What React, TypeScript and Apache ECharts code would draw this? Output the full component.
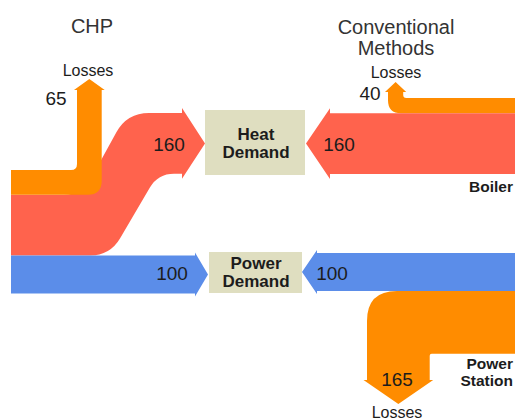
import React, { useEffect, useRef } from 'react';
import * as echarts from 'echarts';

// ---- data ----
const titles = ['CHP', 'Conventional\nMethods'];
const chpNames = ['Losses', 'Heat', 'Power'];
const chpValues = [65, 160, 100];
const convNames = ['Losses', 'Heat', 'Power', 'Losses'];
const convValues = [40, 160, 100, 165];
const demandNames = ['Heat\nDemand', 'Power\nDemand'];
const sourceNames = ['Boiler', 'Power\nStation'];

// ---- scale & styles ----
const UNIT = 0.38; // axis units per energy unit (flow thickness)
const W = 515;
const H = 419;
const COLORS = {
  loss: '#FF8C00',
  heat: '#FF634D',
  power: '#5B8DE9',
  box: '#DFDEC0',
  text: '#1c1c1c',
  title: '#333333',
};
const FONT = '"Liberation Sans", Arial, Helvetica, sans-serif';

type Pt = [number, number, number?];
type Mark =
  | { kind: 'shape'; pts: Pt[]; fill: string }
  | { kind: 'rect'; x0: number; y0: number; x1: number; y1: number; fill: string }
  | {
      kind: 'text';
      text: string;
      x: number;
      y: number;
      size: number;
      weight?: string;
      align?: string;
      color?: string;
      lh?: number;
    };

function buildMarks(): Mark[] {
  const w = (v: number) => v * UNIT;
  const [cLoss, cHeat, cPower] = chpValues;
  const [vLoss, vHeat, vPower, vStation] = convValues;

  // ---- CHP (left) ----
  const xL = 11;
  const yO0 = 170;
  const yO1 = yO0 + w(cLoss);
  const yR1 = yO1 + w(cHeat);
  const yB1 = yR1 + w(cPower);
  const xs0 = 77;
  const xs1 = xs0 + w(cLoss);
  const yH0 = 113;
  const yH1 = yH0 + w(cHeat);
  const yHc = (yH0 + yH1) / 2;

  // ---- Conventional (right) ----
  const xR = W + 2;
  const yL0 = 98;
  const yL1 = yL0 + w(vLoss);
  const yRb1 = yL1 + w(vHeat);
  const xq0 = 388;
  const xq1 = xq0 + w(vLoss);
  const yP0 = 253;
  const yP1 = yP0 + w(vPower);
  const yS1 = yP1 + w(vStation);
  const xt0 = 367;
  const xt1 = xt0 + w(vStation);

  const marks: Mark[] = [
    // boxes
    { kind: 'rect', x0: 205, y0: 110, x1: 305, y1: 175, fill: COLORS.box },
    { kind: 'rect', x0: 209, y0: 252, x1: 302, y1: 293, fill: COLORS.box },
    // CHP heat (S-curve)
    {
      kind: 'shape',
      fill: COLORS.heat,
      pts: [
        [xL, yO1],
        [82, yO1, 18],
        [127, yH0, 22],
        [182, yH0],
        [182, yH0 - 5],
        [205, yHc],
        [182, yH1 + 5],
        [182, yH1],
        [158, yH1, 16],
        [110, yR1, 20],
        [xL, yR1],
      ],
    },
    // CHP losses
    {
      kind: 'shape',
      fill: COLORS.loss,
      pts: [
        [xL, yO0],
        [xs0, yO0, 6],
        [xs0, 90],
        [xs0 - 3, 90],
        [(xs0 + xs1) / 2, 79],
        [xs1 + 3, 90],
        [xs1, 90],
        [xs1, yO1, 14],
        [xL, yO1],
      ],
    },
    // CHP power
    {
      kind: 'shape',
      fill: COLORS.power,
      pts: [
        [xL, yR1],
        [195, yR1],
        [195, yR1 - 3],
        [208, (yR1 + yB1) / 2],
        [195, yB1 + 3],
        [195, yB1],
        [xL, yB1],
      ],
    },
    // Conventional losses (boiler)
    {
      kind: 'shape',
      fill: COLORS.loss,
      pts: [
        [xR, yL0],
        [xq1, yL0, 3],
        [xq1, 92],
        [xq1 + 3, 92],
        [(xq0 + xq1) / 2, 82],
        [xq0 - 3, 92],
        [xq0, 92],
        [xq0, yL1, 13],
        [xR, yL1],
      ],
    },
    // Boiler heat
    {
      kind: 'shape',
      fill: COLORS.heat,
      pts: [
        [xR, yL1],
        [330, yL1],
        [330, yL1 - 5],
        [306, (yL1 + yRb1) / 2],
        [330, yRb1 + 5],
        [330, yRb1],
        [xR, yRb1],
      ],
    },
    // Power station power
    {
      kind: 'shape',
      fill: COLORS.power,
      pts: [
        [xR, yP0],
        [317, yP0],
        [317, yP0 - 3],
        [302, (yP0 + yP1) / 2],
        [317, yP1 + 3],
        [317, yP1],
        [xR, yP1],
      ],
    },
    // Power station losses
    {
      kind: 'shape',
      fill: COLORS.loss,
      pts: [
        [xR, yP1],
        [xt0, yP1, 30],
        [xt0, 380],
        [xt0 - 3.5, 380],
        [(xt0 + xt1) / 2, 404],
        [xt1 + 3.5, 380],
        [xt1, 380],
        [xt1, yS1, 2],
        [xR, yS1],
      ],
    },
  ];

  const texts: Mark[] = [
    { kind: 'text', text: titles[0], x: 92, y: 26, size: 20, color: COLORS.title },
    { kind: 'text', text: titles[1], x: 396, y: 37, size: 20, color: COLORS.title, lh: 21 },
    { kind: 'text', text: chpNames[0], x: 88, y: 70, size: 16 },
    { kind: 'text', text: String(cLoss), x: 56, y: 98, size: 19 },
    { kind: 'text', text: String(cHeat), x: 169, y: 144, size: 19 },
    { kind: 'text', text: String(cPower), x: 172, y: 273, size: 19 },
    { kind: 'text', text: demandNames[0], x: 256, y: 143, size: 17, weight: 'bold', lh: 18 },
    { kind: 'text', text: demandNames[1], x: 256, y: 272, size: 17, weight: 'bold', lh: 18 },
    { kind: 'text', text: convNames[0], x: 396, y: 72, size: 16 },
    { kind: 'text', text: String(vLoss), x: 370, y: 93, size: 19 },
    { kind: 'text', text: String(vHeat), x: 339, y: 144, size: 19 },
    { kind: 'text', text: String(vPower), x: 332, y: 273, size: 19 },
    { kind: 'text', text: String(vStation), x: 397, y: 379, size: 19 },
    { kind: 'text', text: convNames[3], x: 397, y: 412, size: 16 },
    { kind: 'text', text: sourceNames[0], x: 513, y: 186, size: 15.5, weight: 'bold', align: 'right' },
    { kind: 'text', text: sourceNames[1], x: 513, y: 372, size: 15.5, weight: 'bold', align: 'right', lh: 17 },
  ];

  return [...marks, ...texts];
}

function roundedPath(pts: Pt[], coord: (p: number[]) => number[]): string {
  const n = pts.length;
  const f = (p: number[]) => `${p[0].toFixed(2)} ${p[1].toFixed(2)}`;
  let d = '';
  for (let i = 0; i < n; i++) {
    const [x, y, r] = pts[i];
    const cmd = i === 0 ? 'M' : 'L';
    if (!r) {
      d += `${cmd}${f(coord([x, y]))} `;
      continue;
    }
    const prev = pts[(i - 1 + n) % n];
    const next = pts[(i + 1) % n];
    const dx1 = x - prev[0];
    const dy1 = y - prev[1];
    const l1 = Math.hypot(dx1, dy1);
    const dx2 = next[0] - x;
    const dy2 = next[1] - y;
    const l2 = Math.hypot(dx2, dy2);
    const a = coord([x - (dx1 / l1) * r, y - (dy1 / l1) * r]);
    const c = coord([x, y]);
    const b = coord([x + (dx2 / l2) * r, y + (dy2 / l2) * r]);
    d += `${cmd}${f(a)} Q${f(c)} ${f(b)} `;
  }
  return d + 'Z';
}

export default function App() {
  const ref = useRef<HTMLDivElement>(null);

  useEffect(() => {
    if (!ref.current) return;
    const chart = echarts.init(ref.current, undefined, { renderer: 'svg' });
    const marks = buildMarks();

    chart.setOption({
      animation: false,
      backgroundColor: '#ffffff',
      grid: { left: 0, right: 0, top: 0, bottom: 0 },
      xAxis: { type: 'value', min: 0, max: W, show: false },
      yAxis: { type: 'value', min: 0, max: H, inverse: true, show: false },
      series: [
        {
          type: 'custom',
          coordinateSystem: 'cartesian2d',
          silent: true,
          clip: false,
          data: marks.map((_, i) => [i, 0]),
          renderItem: (params: any, api: any) => {
            const m = marks[params.dataIndex];
            const coord = (p: number[]) => api.coord(p);
            if (m.kind === 'shape') {
              return {
                type: 'path',
                shape: { pathData: roundedPath(m.pts, coord) },
                style: { fill: m.fill },
              };
            }
            if (m.kind === 'rect') {
              const a = coord([m.x0, m.y0]);
              const b = coord([m.x1, m.y1]);
              return {
                type: 'rect',
                shape: { x: a[0], y: a[1], width: b[0] - a[0], height: b[1] - a[1] },
                style: { fill: m.fill },
              };
            }
            const p = coord([m.x, m.y]);
            return {
              type: 'text',
              x: p[0],
              y: p[1],
              style: {
                text: m.text,
                fill: m.color || COLORS.text,
                fontSize: m.size,
                fontWeight: m.weight || 'normal',
                fontFamily: FONT,
                align: m.align || 'center',
                verticalAlign: 'middle',
                lineHeight: m.lh,
              },
            };
          },
        },
      ],
    });

    return () => chart.dispose();
  }, []);

  return (
    <div
      ref={ref}
      style={{ position: 'absolute', left: 0, top: 0, width: W, height: H, background: '#fff' }}
    />
  );
}
